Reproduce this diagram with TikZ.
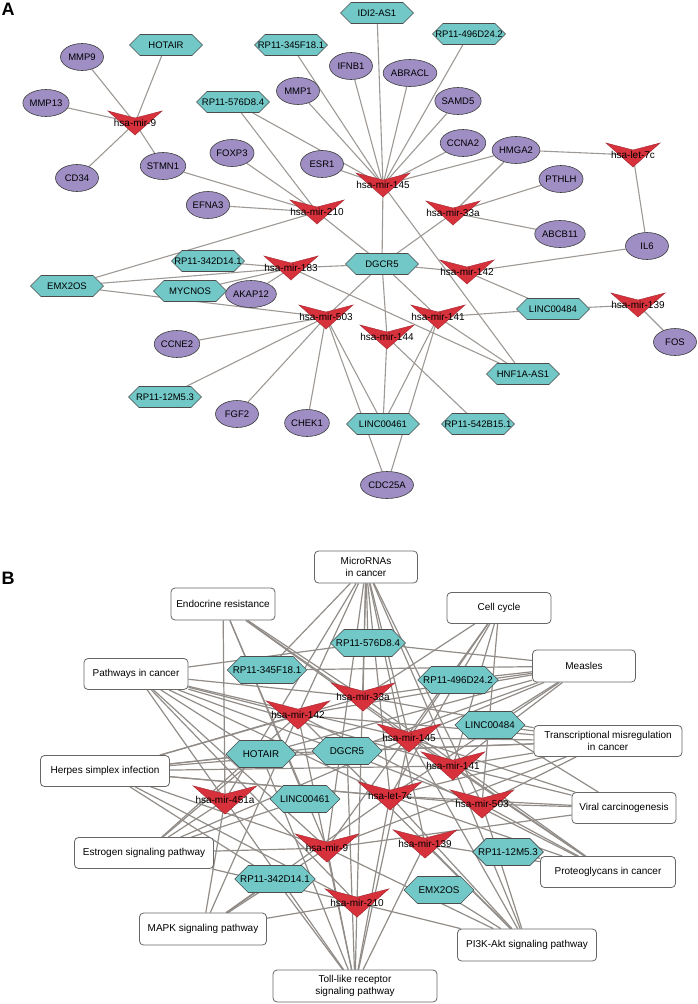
\documentclass[tikz,border=0pt]{standalone}
\usepackage{fontspec}
\setmainfont{Liberation Sans}
\usetikzlibrary{shapes.geometric,shapes.symbols}

\pgfdeclarelayer{bg}
\pgfsetlayers{bg,main}

\definecolor{mrnafill}{RGB}{158,142,196}
\definecolor{lncfill}{RGB}{114,199,199}
\definecolor{mirfill}{RGB}{215,50,60}
\definecolor{linkgray}{RGB}{158,153,149}
\definecolor{linkdark}{RGB}{145,140,136}

% miRNA marker: name, position, label, size
\newcommand{\mirna}[4]{%
  \filldraw[mir] (#2) ++(-27*#4,-12*#4) -- ++(27*#4,7*#4) -- ++(27*#4,-7*#4) -- ++(-27*#4,24*#4) -- cycle;
  \coordinate (#1) at (#2);
  \node[mirtext] (#1t) at (#2) {#3};}

\begin{document}
\begin{tikzpicture}[x=1pt,y=-1pt,
  gene/.style={ellipse, draw=black!75, fill=mrnafill, line width=0.6pt, minimum width=43pt, minimum height=27pt, inner sep=0pt, font=\fontsize{9.5}{11}\selectfont},
  lnc/.style={signal, signal from=nowhere, signal to=east and west, signal pointer angle=90, draw=black!70, fill=lncfill, line width=0.6pt, minimum width=73pt, minimum height=21pt, inner xsep=-8pt, inner ysep=0pt, font=\fontsize{9.5}{11}\selectfont},
  lncB/.style={lnc, minimum width=70pt, minimum height=27pt, font=\fontsize{9.8}{11}\selectfont},
  mir/.style={fill=mirfill, draw=mirfill!75!black, line width=0.4pt},
  mirtext/.style={inner sep=0pt, font=\fontsize{10}{12}\selectfont},
  pathway/.style={draw=black!60, rounded corners=4pt, fill=white, line width=0.8pt, align=center, inner sep=0pt, font=\fontsize{10}{12}\selectfont},
  link/.style={draw=linkgray, line width=1.1pt},
  linkB/.style={draw=linkdark, line width=1.2pt},
  panel/.style={font=\bfseries\fontsize{18}{18}\selectfont, inner sep=0pt}]

\useasboundingbox (0,0) rectangle (698,1004);

% ---------- Panel A ----------
\node[panel] (labA) at (8,9) {A};

% lncRNAs
\node[lnc] (ahotair) at (166,45) {HOTAIR};
\node[lnc] (a345) at (291,45) {RP11-345F18.1};
\node[lnc] (a576) at (233,102) {RP11-576D8.4};
\node[lnc] (aidi) at (377,13) {IDI2-AS1};
\node[lnc] (a496) at (469,34) {RP11-496D24.2};
\node[lnc] (adgcr) at (382,264) {DGCR5};
\node[lnc] (a342) at (208,261) {RP11-342D14.1};
\node[lnc] (aemx) at (67,286) {EMX2OS};
\node[lnc] (amycn) at (190,291) {MYCNOS};
\node[lnc] (a484) at (553,309) {LINC00484};
\node[lnc] (ahnf) at (523,374) {HNF1A-AS1};
\node[lnc] (a461) at (383,424) {LINC00461};
\node[lnc] (a542) at (478,424) {RP11-542B15.1};
\node[lnc] (a12m) at (165,397) {RP11-12M5.3};

% mRNAs
\node[gene] (ammp9) at (82,57) {MMP9};
\node[gene] (ammp13) at (46,103) {MMP13};
\node[gene] (acd34) at (77,178) {CD34};
\node[gene] (astmn) at (163,166) {STMN1};
\node[gene] (ammp1) at (298,91) {MMP1};
\node[gene] (aifnb) at (351,66) {IFNB1};
\node[gene] (aabracl) at (410,73) {ABRACL};
\node[gene] (asamd) at (458,101) {SAMD5};
\node[gene] (accna) at (463,143) {CCNA2};
\node[gene] (ahmga) at (516,150) {HMGA2};
\node[gene] (afoxp) at (232,153) {FOXP3};
\node[gene] (aesr) at (322,164) {ESR1};
\node[gene] (aefna) at (208,205) {EFNA3};
\node[gene] (apthlh) at (561,179) {PTHLH};
\node[gene] (aabcb) at (560,234) {ABCB11};
\node[gene] (ail6) at (647,246) {IL6};
\node[gene] (afos) at (675,342) {FOS};
\node[gene] (aakap) at (251,294) {AKAP12};
\node[gene] (accne) at (177,344) {CCNE2};
\node[gene] (afgf) at (237,414) {FGF2};
\node[gene] (achek) at (307,423) {CHEK1};
\node[gene] (acdc) at (387,485) {CDC25A};

% miRNAs
\mirna{am9}{135,123}{hsa-mir-9}{1}
\mirna{am210}{317,212}{hsa-mir-210}{1}
\mirna{am145}{383,185}{hsa-mir-145}{1}
\mirna{am33a}{453,213}{hsa-mir-33a}{1}
\mirna{alet}{633,155}{hsa-let-7c}{1}
\mirna{am142}{467,272}{hsa-mir-142}{1}
\mirna{am139}{638,305}{hsa-mir-139}{1}
\mirna{am141}{438,317}{hsa-mir-141}{1}
\mirna{am144}{387,337}{hsa-mir-144}{1}
\mirna{am183}{291,268}{hsa-mir-183}{1}
\mirna{am503}{326,317}{hsa-mir-503}{1}

\begin{pgfonlayer}{bg}
\draw[link] (am9) edge (ammp9) edge (ahotair) edge (ammp13) edge (acd34) edge (astmn);
\draw[link] (am145) edge (a345) edge (aifnb) edge (aidi) edge (aabracl) edge (a496) edge (asamd) edge (accna) edge (ahmga) edge (ammp1) edge (a576) edge (aesr) edge (adgcr) edge (ahnf);
\draw[link] (am210) edge (astmn) edge (afoxp) edge (aefna) edge (a576) edge (aemx) edge (adgcr);
\draw[link] (am33a) edge (ahmga) edge (apthlh) edge (aabcb) edge (adgcr);
\draw[link] (alet) edge (ahmga) edge (ail6);
\draw[link] (am142) edge (adgcr) edge (ail6) edge (a484);
\draw[link] (am139) edge (a484) edge (afos);
\draw[link] (am141) edge (a484) edge (adgcr) edge (ahnf) edge (a461) edge (acdc);
\draw[link] (am144) edge (adgcr) edge (a461) edge (a542);
\draw[link] (am183) edge (a342) edge (aemx) edge (amycn) edge (aakap) edge (adgcr) edge (ahnf);
\draw[link] (am503) edge (aemx) edge (accne) edge (a12m) edge (afgf) edge (achek) edge (a461) edge (acdc) edge (adgcr);
\end{pgfonlayer}

% ---------- Panel B ----------
\node[panel] (labB) at (8,578) {B};

% pathways
\node[pathway, minimum width=103pt, minimum height=32pt] (pmir) at (366,567) {MicroRNAs\\in cancer};
\node[pathway, minimum width=104pt, minimum height=32pt] (pendo) at (223,604) {Endocrine resistance};
\node[pathway, minimum width=104pt, minimum height=31pt] (ppath) at (136,674) {Pathways in cancer};
\node[pathway, minimum width=129pt, minimum height=31pt] (pherpes) at (105,771) {Herpes simplex infection};
\node[pathway, minimum width=104pt, minimum height=31pt] (pcell) at (499,608) {Cell cycle};
\node[pathway, minimum width=103pt, minimum height=32pt] (pmeas) at (584,666) {Measles};
\node[pathway, minimum width=148pt, minimum height=31pt] (ptrans) at (608,741) {Transcriptional misregulation\\in cancer};
\node[pathway, minimum width=104pt, minimum height=31pt] (pviral) at (624,808) {Viral carcinogenesis};
\node[pathway, minimum width=135pt, minimum height=31pt] (pproteo) at (608,872) {Proteoglycans in cancer};
\node[pathway, minimum width=139pt, minimum height=32pt] (ppik) at (527,945) {PI3K-Akt signaling pathway};
\node[pathway, minimum width=139pt, minimum height=31pt] (pestr) at (144,853) {Estrogen signaling pathway};
\node[pathway, minimum width=127pt, minimum height=32pt] (pmapk) at (203,929) {MAPK signaling pathway};
\node[pathway, minimum width=164pt, minimum height=32pt] (ptoll) at (355,986) {Toll-like receptor\\signaling pathway};

% lncRNAs
\node[lncB] (b576) at (368,643) {RP11-576D8.4};
\node[lncB] (b345) at (267,670) {RP11-345F18.1};
\node[lncB] (b496) at (458,680) {RP11-496D24.2};
\node[lncB] (b484) at (490,725) {LINC00484};
\node[lncB] (bdgcr) at (347,751) {DGCR5};
\node[lncB] (bhotair) at (261,754) {HOTAIR};
\node[lncB] (b461) at (305,799) {LINC00461};
\node[lncB] (b12m) at (508,852) {RP11-12M5.3};
\node[lncB] (b342) at (275,879) {RP11-342D14.1};
\node[lncB] (bemx) at (439,890) {EMX2OS};

% miRNAs
\mirna{bm33a}{363,697}{hsa-mir-33a}{1.18}
\mirna{bm142}{298,715}{hsa-mir-142}{1.18}
\mirna{bm145}{409,738}{hsa-mir-145}{1.18}
\mirna{bm141}{453,766}{hsa-mir-141}{1.18}
\mirna{blet}{390,796}{hsa-let-7c}{1.18}
\mirna{bm451}{225,800}{hsa-mir-451a}{1.18}
\mirna{bm503}{482,804}{hsa-mir-503}{1.18}
\mirna{bm9}{327,848}{hsa-mir-9}{1.18}
\mirna{bm139}{425,844}{hsa-mir-139}{1.18}
\mirna{bm210}{357,903}{hsa-mir-210}{1.18}

\begin{pgfonlayer}{bg}
\draw[linkB] (pmir) edge (b576) edge (bm33a) edge (bm142) edge (bm145) edge (bm141) edge (blet) edge (bm9) edge (bm210) edge (bm503) edge (bm139) edge (b345) edge (bm451);
\draw[linkB] (pendo) edge (bm451) edge (bm9) edge (bm145) edge (bm141) edge (bm33a) edge (b461);
\draw[linkB] (ppath) edge (bm142) edge (bm33a) edge (bm145) edge (bm141) edge (blet) edge (bm503) edge (bm9) edge (bm210) edge (bhotair) edge (bm451) edge (b576);
\draw[linkB] (pherpes) edge (bm142) edge (bm33a) edge (bm145) edge (bm141) edge (bhotair) edge (bdgcr) edge (bm9) edge (bm210) edge (blet) edge (bm503) edge (b342);
\draw[linkB] (pcell) edge (bm145) edge (bm141) edge (blet) edge (bm33a) edge (bm9) edge (bm503);
\draw[linkB] (pmeas) edge (b576) edge (bm33a) edge (bm142) edge (bm145) edge (bm141) edge (b484) edge (bdgcr) edge (bhotair) edge (b345) edge (blet) edge (b496);
\draw[linkB] (ptrans) edge (bm33a) edge (bm145) edge (bm141) edge (b484) edge (bm142) edge (bhotair) edge (bdgcr) edge (blet) edge (bm503) edge (bm9);
\draw[linkB] (pviral) edge (bm503) edge (bm141) edge (blet) edge (bm145) edge (bm9) edge (b484);
\draw[linkB] (pproteo) edge (bm503) edge (bm141) edge (bm145) edge (blet) edge (bm139) edge (bm33a) edge (bm142) edge (b12m);
\draw[linkB] (ppik) edge (bm210) edge (bm139) edge (bm503) edge (blet) edge (bm9) edge (bm141) edge (bm145) edge (bemx) edge (bm142);
\draw[linkB] (ptoll) edge (bm210) edge (bm9) edge (b342) edge (bm139) edge (blet) edge (bm142) edge (bdgcr) edge (bm145) edge (bm451) edge (bhotair);
\draw[linkB] (pmapk) edge (b342) edge (bm9) edge (bm210) edge (bm451) edge (bm142) edge (blet);
\draw[linkB] (pestr) edge (bm9) edge (bm451) edge (bm142) edge (bm145) edge (bhotair) edge (b461) edge (bm210);
\end{pgfonlayer}
\end{tikzpicture}
\end{document}
